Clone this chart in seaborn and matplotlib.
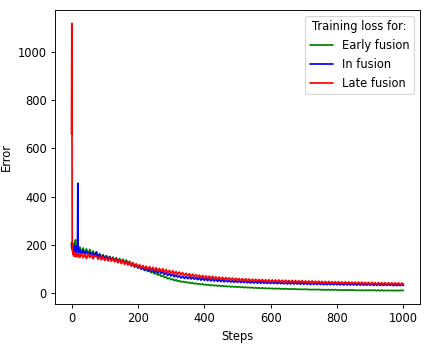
import matplotlib
matplotlib.use("Agg")
import matplotlib.pyplot as plt
import numpy as np
import pandas as pd
import seaborn as sns

# steps: every step for the first 25, then every 5 steps
steps = list(range(0, 25)) + list(range(25, 1001, 5))

early_fusion = [
    210, 192, 200, 185, 196, 178, 190, 205, 182, 194, 188, 200, 220, 186, 198, 180, 192, 175, 188, 196,
    178, 190, 172, 185, 180,
    190, 168, 186, 164, 182, 160, 180, 158, 174, 154,
    168, 148, 162, 144, 158, 141, 154, 138, 151, 136,
    148, 132, 145, 129, 142, 127, 139, 124, 136, 122,
    131, 117, 125, 111, 118, 104, 111, 98, 104, 92,
    98, 88, 92, 83, 87, 78, 82, 73, 77, 68,
    71, 63, 66, 58, 61, 54, 57, 50, 54, 47,
    50, 45, 47, 43, 45, 41, 43, 39, 41, 37,
    39, 36, 37, 34, 36, 33, 34, 32, 33, 30,
    32, 29, 31, 28, 30, 27, 29, 26, 28, 25,
    27, 24, 26, 24, 25, 23, 25, 22, 24, 21,
    23, 21, 22, 20, 22, 19, 21, 19, 20, 18,
    20, 18, 19, 17, 19, 17, 18, 16, 18, 16,
    18, 15, 17, 15, 17, 15, 16, 14, 16, 14,
    16, 14, 15, 13, 15, 13, 15, 13, 14, 12,
    14, 12, 14, 12, 14, 12, 13, 11, 13, 11,
    13, 11, 13, 11, 13, 11, 12, 10, 12, 10,
    12, 10, 12, 10, 12, 10, 11, 9, 11, 9,
    11, 9, 11, 9, 11, 9, 11, 9, 11, 8,
    11, 8, 11, 8, 10, 8, 10, 8, 10, 8,
    10, 8, 10, 8, 10, 9,
]

in_fusion = [
    200, 185, 206, 178, 190, 175, 184, 196, 172, 181, 188, 170, 183, 176, 192, 168, 180, 174, 186, 455,
    172, 178, 166, 181, 170,
    180, 160, 176, 157, 172, 155, 169, 152, 166, 150,
    170, 147, 159, 143, 155, 140, 152, 137, 149, 135,
    145, 131, 142, 127, 138, 124, 134, 120, 130, 116,
    125, 111, 121, 106, 116, 102, 111, 98, 107, 94,
    103, 91, 100, 88, 98, 85, 95, 82, 92, 80,
    87, 75, 83, 72, 80, 69, 77, 66, 74, 64,
    71, 61, 69, 59, 68, 58, 66, 57, 65, 56,
    63, 54, 62, 52, 61, 51, 59, 50, 58, 49,
    57, 48, 56, 47, 55, 46, 54, 45, 53, 45,
    51, 44, 50, 43, 50, 43, 49, 42, 48, 42,
    48, 41, 47, 40, 47, 40, 46, 40, 46, 39,
    46, 39, 45, 38, 45, 38, 44, 38, 44, 37,
    44, 37, 43, 37, 43, 36, 42, 36, 42, 36,
    42, 36, 41, 35, 41, 35, 41, 35, 40, 34,
    40, 34, 40, 34, 40, 34, 39, 33, 39, 33,
    39, 33, 39, 33, 38, 33, 38, 32, 38, 32,
    38, 32, 37, 32, 37, 32, 37, 31, 37, 31,
    37, 31, 36, 31, 36, 31, 36, 30, 36, 30,
    36, 30, 35, 30, 35, 30, 35, 30, 35, 29,
    35, 29, 35, 29, 34, 30,
]

late_fusion = [
    660, 1120, 240, 172, 165, 158, 168, 155, 162, 150, 166, 158, 152, 164, 157, 149, 161, 155, 163, 151,
    158, 154, 162, 148, 157,
    147, 163, 145, 160, 142, 162, 146, 158, 141, 155,
    154, 139, 151, 136, 149, 134, 147, 132, 144, 131,
    143, 128, 140, 124, 137, 121, 134, 118, 130, 116,
    127, 113, 124, 109, 120, 106, 117, 102, 113, 100,
    110, 97, 108, 94, 106, 92, 104, 90, 101, 88,
    99, 86, 96, 83, 93, 80, 91, 78, 88, 76,
    86, 75, 83, 72, 81, 70, 79, 68, 77, 67,
    75, 65, 73, 63, 72, 61, 70, 60, 69, 59,
    68, 58, 66, 56, 65, 55, 64, 54, 63, 54,
    62, 53, 61, 52, 60, 51, 59, 50, 58, 50,
    58, 49, 57, 48, 56, 48, 56, 47, 55, 47,
    55, 46, 54, 46, 54, 45, 53, 45, 53, 44,
    53, 44, 52, 44, 52, 43, 51, 43, 51, 42,
    51, 42, 50, 42, 50, 41, 49, 41, 49, 41,
    49, 40, 48, 40, 48, 40, 47, 39, 47, 39,
    47, 39, 46, 38, 46, 38, 46, 38, 45, 37,
    45, 37, 45, 37, 44, 37, 44, 36, 44, 36,
    44, 36, 43, 36, 43, 35, 43, 35, 42, 35,
    42, 35, 42, 34, 42, 34, 41, 34, 41, 34,
    41, 34, 41, 33, 40, 36,
]

labels = ["Early fusion", "In fusion", "Late fusion"]
colors = ["green", "blue", "red"]

frames = []
for name, vals in zip(labels, [early_fusion, in_fusion, late_fusion]):
    frames.append(pd.DataFrame({"Steps": steps, "Error": vals, "model": name}))
df = pd.concat(frames, ignore_index=True)

sns.set_style("ticks", {"axes.edgecolor": "black", "text.color": "black",
                        "xtick.color": "black", "ytick.color": "black",
                        "axes.labelcolor": "black"})
plt.rcParams["font.family"] = ["DejaVu Sans"]

fig = plt.figure(figsize=(429 / 83, 346 / 83), dpi=83)
ax = fig.add_axes([0.128, 0.121, 0.851, 0.850])
sns.lineplot(data=df, x="Steps", y="Error", hue="model", hue_order=labels,
             palette=colors, estimator=None, linewidth=1.5, ax=ax)

ax.legend(title="Training loss for:", loc="upper right")
ax.set_xlabel("Steps")
ax.set_ylabel("Error")
ax.set_xticks([0, 200, 400, 600, 800, 1000])
ax.set_yticks([0, 200, 400, 600, 800, 1000])

fig.savefig("out.png", dpi=83)
